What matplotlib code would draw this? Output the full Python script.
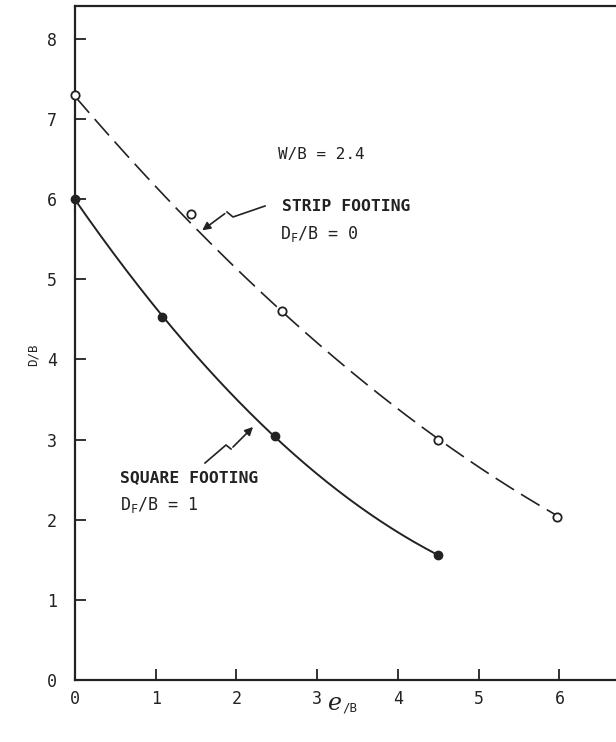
import numpy as np
import matplotlib
matplotlib.use("Agg")
import matplotlib.pyplot as plt
from matplotlib.lines import Line2D
from matplotlib.patches import FancyArrowPatch

plt.rcParams["font.family"] = ["DejaVu Sans Mono"]
plt.rcParams["mathtext.fontset"] = "custom"
plt.rcParams["mathtext.rm"] = "DejaVu Sans Mono"
plt.rcParams["mathtext.it"] = "DejaVu Sans Mono:italic"

# Strip footing, Df/B = 0 (open circles)
strip_eB = [0.0, 1.44, 2.56, 4.50, 5.97]
strip_DB = [7.30, 5.82, 4.60, 3.00, 2.03]
# smooth design curve drawn through the strip data
strip_curve_eB = [0.0, 1.5, 3.0, 4.5, 6.0]
strip_curve_DB = [7.30, 5.58, 4.25, 3.00, 2.03]

# Square footing, Df/B = 1 (filled circles)
square_eB = [0.0, 1.08, 2.48, 4.49]
square_DB = [6.00, 4.53, 3.04, 1.56]

x_ticks = [0, 1, 2, 3, 4, 5, 6]
y_ticks = [0, 1, 2, 3, 4, 5, 6, 7, 8]

W, H = 616, 742
fig = plt.figure(figsize=(W / 100, H / 100), dpi=100)


def fp(x, y):
    """pixel position (from top-left) -> figure fraction"""
    return x / W, 1 - y / H


left, top, bottom = 75, 6, 680
ax = fig.add_axes([left / W, 1 - bottom / H, 1 - left / W, (bottom - top) / H])
ax.set_xlim(0, 6.70)
ax.set_ylim(0, 8.41)

ax.spines["right"].set_visible(False)
for s in ("left", "bottom", "top"):
    ax.spines[s].set_linewidth(1.6)
    ax.spines[s].set_color("#222222")

ax.set_xticks(x_ticks)
ax.set_yticks(y_ticks)
ax.tick_params(direction="in", length=8, width=1.3, color="#222222",
               labelsize=12, labelcolor="#222222")
ax.tick_params(axis="x", pad=7)
ax.tick_params(axis="y", pad=13)

# fitted curves
c_strip = np.polyfit(strip_curve_eB, strip_curve_DB, 2)
xs = np.linspace(0, strip_curve_eB[-1], 200)
ax.plot(xs, np.polyval(c_strip, xs), color="#222222", lw=1.2,
        dashes=(13, 5), clip_on=False)

c_sq = np.polyfit(square_eB, square_DB, 2)
xq = np.linspace(0, square_eB[-1], 200)
ax.plot(xq, np.polyval(c_sq, xq), color="#222222", lw=1.4, clip_on=False)

ax.plot(strip_eB, strip_DB, "o", ms=6, mfc="white", mec="#222222",
        mew=1.3, clip_on=False, zorder=5)
ax.plot(square_eB, square_DB, "o", ms=6, mfc="#222222", mec="#222222",
        clip_on=False, zorder=5)

# annotations
fig.text(*fp(278, 155), "W/B = 2.4", fontsize=11.5, va="center", color="#222222")
fig.text(*fp(282, 207), "STRIP FOOTING", fontsize=11.8, va="center",
         color="#222222", weight="bold")
fig.text(*fp(280, 234), r"D$_\mathrm{F}$/B = 0", fontsize=12, va="center",
         color="#222222")
fig.text(*fp(120, 478), "SQUARE FOOTING", fontsize=11.8, va="center",
         color="#222222", weight="bold")
fig.text(*fp(120, 505), r"D$_\mathrm{F}$/B = 1", fontsize=12, va="center",
         color="#222222")


def squiggle(points):
    xy = [fp(x, y) for x, y in points]
    fx, fy = zip(*xy[:-1])
    fig.add_artist(Line2D(fx, fy, transform=fig.transFigure,
                          color="#222222", lw=1.2))
    fig.add_artist(FancyArrowPatch(
        xy[-2], xy[-1], transform=fig.transFigure, arrowstyle="-|>",
        mutation_scale=12, color="#222222", lw=1.2))


squiggle([(265, 206), (233, 217), (227, 212), (200, 232)])
squiggle([(205, 463), (226, 445), (231, 449), (255, 425)])

# axis titles
fig.text(*fp(33, 355), "D/B", rotation=90, fontsize=9, ha="center",
         va="center", color="#222222")
fig.text(*fp(342, 704), "e", fontsize=17, style="italic", ha="right",
         va="center", color="#222222", family="DejaVu Serif")
fig.text(*fp(342, 708), "/B", fontsize=9, ha="left", va="center",
         color="#222222")

fig.savefig("out.png", dpi=100)
